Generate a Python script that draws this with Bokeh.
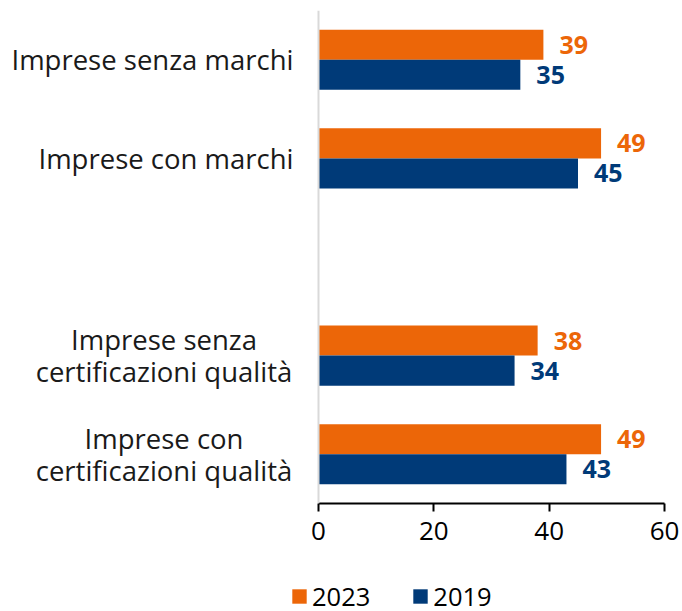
from bokeh.plotting import figure
from bokeh.models import (FactorRange, Range1d, ColumnDataSource, Legend, LegendItem,
                          FixedTicker, Span)
from bokeh.layouts import column
from bokeh.transform import dodge
from bokeh.embed import file_html
from bokeh.resources import INLINE
from bokeh.core.properties import value

# category label lines (empty = spacer slot)
label_lines = [["Imprese senza marchi"], ["Imprese con marchi"], [],
               ["Imprese senza", "certificazioni qualità"],
               ["Imprese con", "certificazioni qualità"]]
categories = [" ".join(l) if l else "spacer" for l in label_lines]
v2023 = [39, 49, None, 38, 49]
v2019 = [35, 45, None, 34, 43]
x_ticks = [0, 20, 40, 60]
series = ["2023", "2019"]
colors = ["#EC6608", "#003A78"]

FONT = "Open Sans"

rows = [i for i, l in enumerate(label_lines) if l]
src = ColumnDataSource(dict(
    cat=[categories[i] for i in rows],
    a=[v2023[i] for i in rows],
    b=[v2019[i] for i in rows],
    la=[str(v2023[i]) for i in rows],
    lb=[str(v2019[i]) for i in rows],
))

# frame spans the full width; value 0 sits at x=318 px, 60 at x=664 px
px_per_unit = (664 - 318) / 60
x_range = Range1d(-318 / px_per_unit, 60 + (682 - 664) / px_per_unit)
y_range = FactorRange(*reversed(categories))

p = figure(width=682, height=560, output_backend="svg", toolbar_location=None,
           y_range=y_range, x_range=x_range,
           min_border_left=0, min_border_right=0, min_border_top=10, min_border_bottom=57)
p.outline_line_color = None
p.xgrid.grid_line_color = None
p.ygrid.grid_line_color = None
p.yaxis.visible = False

p.add_layout(Span(location=0, dimension="height", line_color="#D9D9D9", line_width=2))

h = 0.305
r1 = p.hbar(y=dodge("cat", h / 2, range=y_range), right="a", left=0, height=h,
            source=src, fill_color=colors[0], line_color=None)
r2 = p.hbar(y=dodge("cat", -h / 2, range=y_range), right="b", left=0, height=h,
            source=src, fill_color=colors[1], line_color=None)

p.text(x="a", y=dodge("cat", h / 2, range=y_range), text="la", source=src,
       x_offset=16, text_baseline="middle", text_font=value(FONT), text_font_style="bold",
       text_font_size="25px", text_color=colors[0])
p.text(x="b", y=dodge("cat", -h / 2, range=y_range), text="lb", source=src,
       x_offset=16, text_baseline="middle", text_font=value(FONT), text_font_style="bold",
       text_font_size="25px", text_color=colors[1])

xa = p.xaxis[0]
xa.bounds = (x_ticks[0], x_ticks[-1])
xa.ticker = FixedTicker(ticks=x_ticks)
xa.axis_line_color = "black"
xa.axis_line_width = 2
xa.major_tick_line_color = "black"
xa.major_tick_line_width = 2
xa.major_tick_in = 0
xa.major_tick_out = 8
xa.minor_tick_line_color = None
xa.major_label_text_font = FONT
xa.major_label_text_font_size = "26px"
xa.major_label_text_color = "black"
xa.major_label_standoff = 10

# category labels: single-line right-aligned, two-line centred block
single = dict(cat=[], txt=[])
upper = dict(cat=[], txt=[])
lower = dict(cat=[], txt=[])
for i in rows:
    l = label_lines[i]
    if len(l) == 1:
        single["cat"].append(categories[i]); single["txt"].append(l[0])
    else:
        upper["cat"].append(categories[i]); upper["txt"].append(l[0])
        lower["cat"].append(categories[i]); lower["txt"].append(l[1])

common = dict(text_font=value(FONT), text_font_size="27.5px", text_color="#1a1a1a",
              text_baseline="middle")
p.text(x=0, y="cat", text="txt", source=ColumnDataSource(single),
       x_offset=-25, text_align="right", **common)
p.text(x=0, y="cat", text="txt", source=ColumnDataSource(upper),
       x_offset=-154.5, y_offset=-16, text_align="center", **common)
p.text(x=0, y="cat", text="txt", source=ColumnDataSource(lower),
       x_offset=-154.5, y_offset=16, text_align="center", **common)

# legend strip below the chart (zero-height stand-in renderers for the swatches)
p2 = figure(width=682, height=51, output_backend="svg", toolbar_location=None,
            x_range=x_range, y_range=FactorRange(*reversed(categories)),
            min_border_left=0, min_border_right=0, min_border_top=0, min_border_bottom=0)
p2.outline_line_color = None
p2.axis.visible = False
p2.grid.visible = False
d1 = p2.hbar(y="cat", right="a", left=0, height=0, source=src,
             fill_color=colors[0], line_color=None)
d2 = p2.hbar(y="cat", right="b", left=0, height=0, source=src,
             fill_color=colors[1], line_color=None)
legend = Legend(items=[LegendItem(label=series[0], renderers=[d1]),
                       LegendItem(label=series[1], renderers=[d2])],
                orientation="horizontal", location=(290, -2),
                label_text_font=FONT, label_text_font_size="25.5px",
                label_text_color="black",
                glyph_width=18, glyph_height=18, spacing=41, label_standoff=4,
                background_fill_alpha=0, border_line_color=None,
                padding=0, margin=0)
p2.add_layout(legend, "center")

layout = column(p, p2, spacing=0)
open("out.html", "w").write(file_html(layout, INLINE))
